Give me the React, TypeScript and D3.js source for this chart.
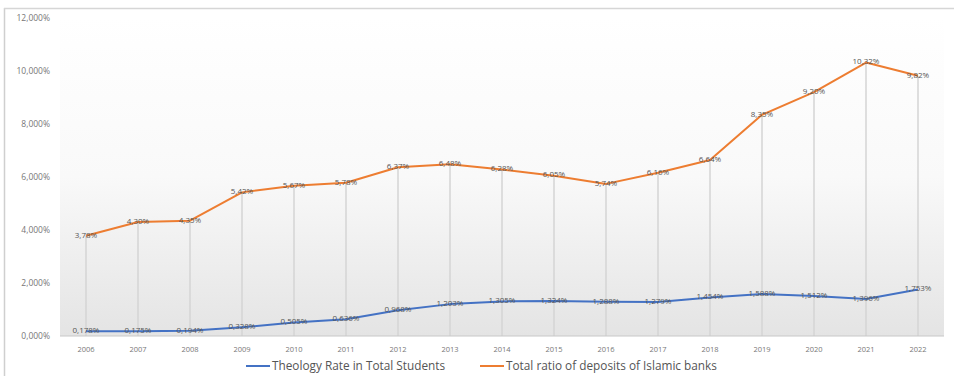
import React from "react";
import * as d3 from "d3";

const years = ["2006","2007","2008","2009","2010","2011","2012","2013","2014","2015","2016","2017","2018","2019","2020","2021","2022"];
const theology = [0.178,0.175,0.194,0.328,0.505,0.636,0.968,1.203,1.305,1.324,1.288,1.279,1.454,1.588,1.512,1.396,1.753];
const deposits = [3.78,4.30,4.35,5.42,5.67,5.78,6.37,6.48,6.28,6.05,5.74,6.16,6.64,8.35,9.20,10.32,9.82];
const yTicks = [0,2,4,6,8,10,12];
const seriesNames = ["Theology Rate in Total Students","Total ratio of deposits of Islamic banks"];

const W = 954, H = 377;
const left = 60, right = 944, top = 18, bottom = 336;
const BLUE = "#4472C4", ORANGE = "#ED7D31";
const FONT = "'Open Sans', 'DejaVu Sans', sans-serif";

const fmt = (v: number, d: number) => v.toFixed(d).replace(".", ",") + "%";

export default function App() {
  const x = d3.scaleBand().domain(years).range([left, right]);
  const y = d3.scaleLinear().domain([0, 12]).range([bottom, top]);
  const cx = (yr: string) => (x(yr) as number) + x.bandwidth() / 2;
  const line = d3.line<number>().x((_, i) => cx(years[i])).y(v => y(v));

  return (
    <svg width={W} height={H} style={{ position: "absolute", left: 0, top: 0, background: "#fff" }}>
      <defs>
        <linearGradient id="bg" x1="0" y1="0" x2="0" y2="1">
          <stop offset="0" stopColor="#ffffff" />
          <stop offset="0.5" stopColor="#f9f9f9" />
          <stop offset="1" stopColor="#e4e4e4" />
        </linearGradient>
      </defs>
      <line x1={4.5} x2={4.5} y1={8} y2={376} stroke="#cfcfcf" strokeWidth={1.5} />
      <line x1={4} x2={W} y1={8.5} y2={8.5} stroke="#d6d6d6" strokeWidth={1.5} />
      <rect x={left} y={top} width={right - left} height={bottom - top} fill="url(#bg)" />
      {years.map((yr, i) => (
        <line key={yr} x1={cx(yr)} x2={cx(yr)} y1={y(Math.max(theology[i], deposits[i]))} y2={bottom} stroke="#d4d4d4" strokeWidth={1.5} />
      ))}
      <line x1={left} x2={right} y1={bottom} y2={bottom} stroke="#c8c8c8" strokeWidth={1} />
      {yTicks.map(t => (
        <text key={t} x={50} y={y(t)} dy="0.35em" textAnchor="end" fontFamily={FONT} fontSize={8.5} fill="#777">{fmt(t, 3)}</text>
      ))}
      {years.map(yr => (
        <text key={yr} x={cx(yr)} y={349} dy="0.35em" textAnchor="middle" fontFamily={FONT} fontSize={7.5} fill="#777">{yr}</text>
      ))}
      <path d={line(deposits) || ""} fill="none" stroke={ORANGE} strokeWidth={2} strokeLinejoin="round" />
      <path d={line(theology) || ""} fill="none" stroke={BLUE} strokeWidth={2} strokeLinejoin="round" />
      {deposits.map((v, i) => (
        <text key={"d" + i} x={cx(years[i])} y={y(v) - 1} dy="0.35em" textAnchor="middle" fontFamily={FONT} fontSize={8} fill="#555">{fmt(v, 2)}</text>
      ))}
      {theology.map((v, i) => (
        <text key={"t" + i} x={cx(years[i])} y={y(v) - 1} dy="0.35em" textAnchor="middle" fontFamily={FONT} fontSize={8} fill="#555">{fmt(v, 3)}</text>
      ))}
      <g fontFamily={FONT} fontSize={11.8} fill="#555">
        <line x1={246} x2={270} y1={366} y2={366} stroke={BLUE} strokeWidth={2} />
        <text x={272} y={366} dy="0.35em">{seriesNames[0]}</text>
        <line x1={480} x2={504} y1={366} y2={366} stroke={ORANGE} strokeWidth={2} />
        <text x={506} y={366} dy="0.35em">{seriesNames[1]}</text>
      </g>
    </svg>
  );
}
